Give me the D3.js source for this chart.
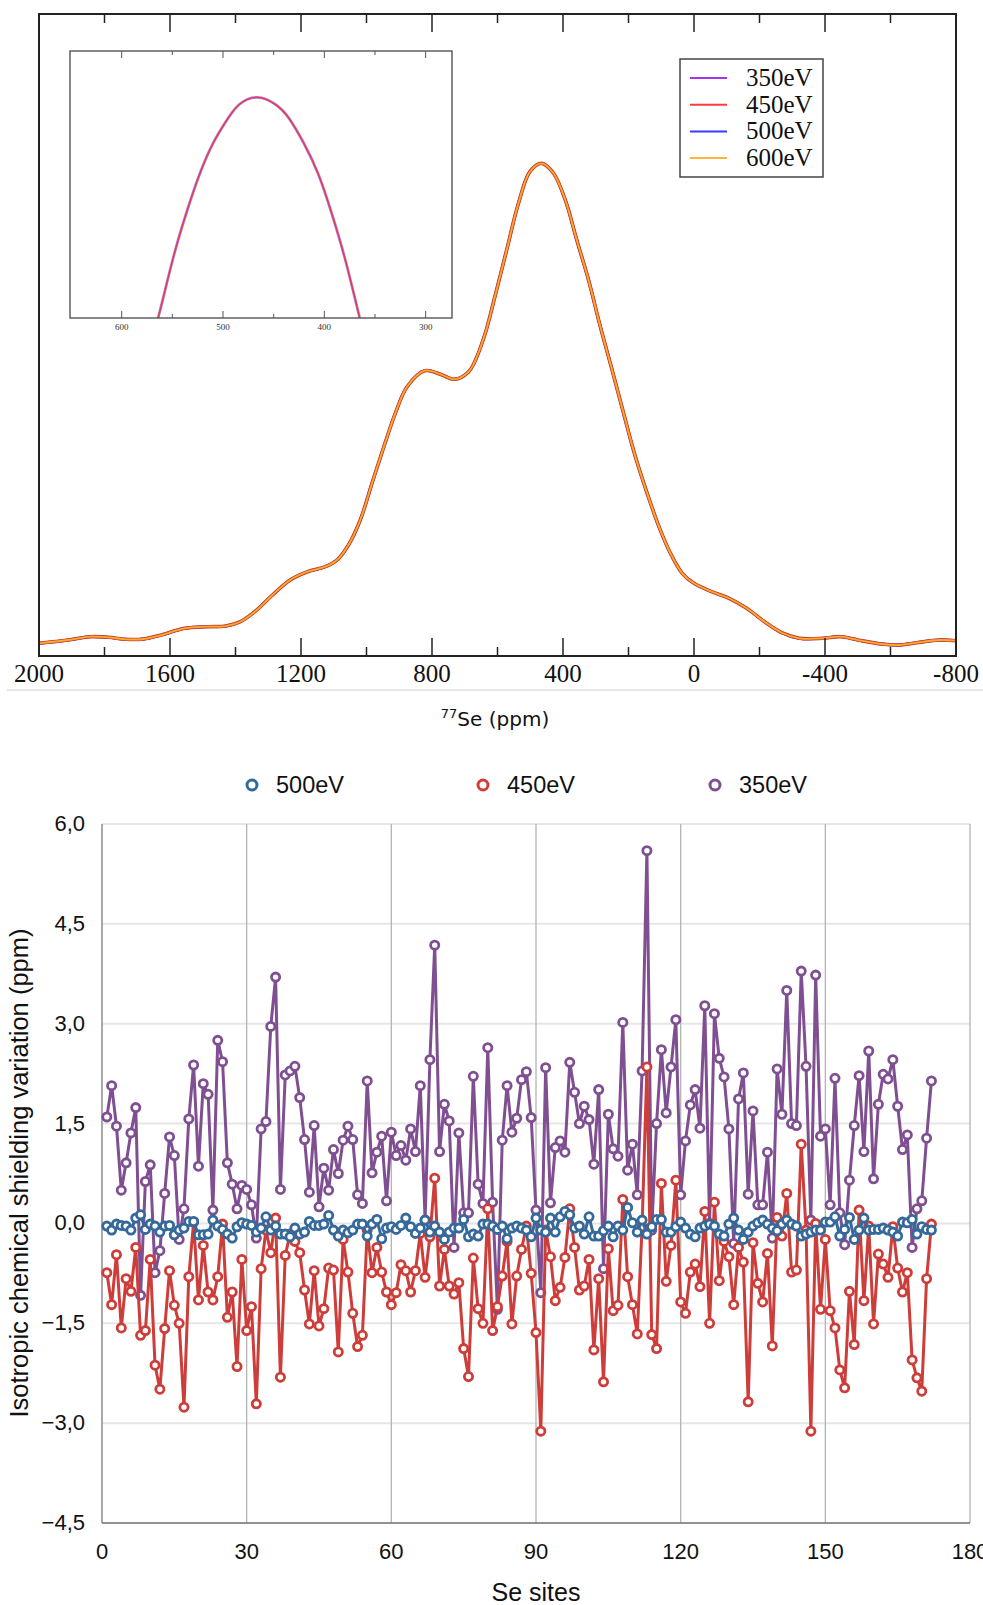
<!DOCTYPE html>
<html>
<head>
<meta charset="utf-8">
<script src="https://cdn.jsdelivr.net/npm/d3@7"></script>
<style>
  body { margin: 0; background: #fff; }
  svg { display: block; }
</style>
</head>
<body>
<div id="chart"></div>
<script>
// ---- top panel: 77Se spectrum ----
var spectrumPpm = [2000, 1913, 1841, 1788, 1734, 1680, 1627, 1555, 1484, 1430, 1385, 1341, 1287, 1233, 1180, 1126,
  1090, 1055, 1019, 983, 947, 912, 876, 822, 769, 733, 688, 644, 608, 572, 536, 501, 465, 429, 393, 358, 322, 286,
  250, 215, 179, 143, 107, 72, 36, 0, -54, -107, -161, -215, -268, -322, -393, -447, -501, -572, -626, -679, -751, -800];
var spectrumIntensity = [1.98, 2.49, 3.01, 2.91, 2.60, 2.65, 3.27, 4.31, 4.56, 4.67, 5.34, 6.90, 9.50, 11.84, 13.13, 13.91,
  14.95, 17.29, 21.18, 26.95, 32.60, 37.80, 41.95, 44.44, 43.77, 43.10, 44.28, 49.22, 55.97, 63.24, 70.51, 75.44, 76.74, 75.19, 71.03, 64.80, 58.57, 51.29,
  44.55, 37.80, 31.04, 25.34, 20.14, 16.00, 12.88, 11.32, 10.02, 8.99, 7.43, 5.34, 3.63, 2.76, 2.76, 3.01, 2.49, 1.87, 1.71, 2.07, 2.49, 2.38];

// zoom on the main peak
var insetPpm = [572, 562, 549, 536, 523, 510, 497, 484, 466, 448, 435, 420, 406, 393, 380, 367, 356];
var insetIntensity = [61.2, 63.5, 66.8, 69.6, 72.0, 73.9, 75.3, 76.35, 76.8, 76.35, 75.5, 73.9, 72.0, 69.6, 66.8, 63.5, 60.6];

var spectrumSeries = ['350eV', '450eV', '500eV', '600eV'];
var spectrumColors = ['#a633ee', '#ff3b3b', '#3b3bff', '#ffb43c'];
var spectrumTicks = [2000, 1600, 1200, 800, 400, 0, -400, -800];
var insetTicks = [600, 500, 400, 300];

// ---- bottom panel: shielding variation per Se site ----
var shieldSeries = ['500eV', '450eV', '350eV'];
var shieldColors = ['#35699a', '#cd3d39', '#7f4f92'];
var shieldYTicks = [-4.5, -3.0, -1.5, 0.0, 1.5, 3.0, 4.5, 6.0];
var shieldXTicks = [0, 30, 60, 90, 120, 150, 180];

var shield500 = [-0.04, -0.10, -0.01, -0.03, -0.04, -0.10, 0.08, 0.13, -0.09, -0.01, -0.04, -0.13, -0.04, -0.03, -0.17, -0.10, -0.07, 0.03, 0.03, -0.17,
  -0.17, -0.16, 0.05, -0.04, -0.09, -0.16, -0.22, -0.05, 0.01, -0.01, -0.03, -0.13, -0.07, 0.10, -0.10, -0.04, -0.16, -0.16, -0.20, -0.07,
  -0.16, -0.13, 0.03, -0.03, -0.03, -0.01, 0.12, -0.10, -0.19, -0.10, -0.14, -0.10, -0.01, -0.01, -0.19, -0.01, 0.06, -0.23, -0.07, -0.05,
  -0.09, -0.03, 0.08, -0.05, -0.15, -0.07, 0.05, -0.13, -0.04, -0.13, -0.24, -0.13, -0.07, -0.07, 0.06, -0.20, -0.16, -0.19, -0.01, -0.01,
  -0.04, -0.09, -0.04, -0.23, -0.07, -0.04, -0.07, -0.10, -0.20, 0.08, -0.10, -0.13, 0.08, -0.13, 0.10, 0.18, 0.13, -0.07, -0.04, -0.16,
  0.10, -0.19, -0.19, -0.11, -0.04, -0.20, -0.04, -0.10, 0.24, 0.01, -0.13, 0.05, -0.16, -0.05, 0.06, 0.06, -0.13, -0.13, -0.05, 0.02,
  -0.07, -0.16, -0.20, -0.07, -0.04, -0.01, -0.04, -0.16, -0.19, -0.01, 0.08, -0.10, -0.24, -0.13, -0.04, 0.01, 0.05, -0.01, -0.07, -0.11,
  -0.01, 0.05, -0.01, -0.04, -0.19, -0.16, -0.13, -0.10, -0.10, 0.02, 0.02, 0.10, -0.19, -0.09, 0.09, -0.24, -0.10, 0.08, -0.10, -0.09,
  -0.09, -0.07, -0.10, -0.13, -0.19, 0.02, 0.01, 0.06, -0.16, -0.05, -0.09, -0.10];

var shield450 = [-0.74, -1.22, -0.47, -1.57, -0.83, -1.02, -0.36, -1.68, -1.61, -0.54, -2.13, -2.49, -1.58, -0.71, -1.23, -1.50, -2.76, -0.80, 0.02, -1.15,
  -0.33, -1.03, -1.15, -0.80, -0.01, -1.41, -1.03, -2.15, -0.54, -1.61, -1.25, -2.71, -0.68, -0.10, -0.44, 0.08, -2.31, -0.48, -0.16, -0.27,
  -0.44, -1.00, -1.51, -0.71, -1.54, -1.28, -0.67, -0.70, -1.93, -0.24, -0.73, -1.35, -1.85, -1.68, -0.10, -0.74, -0.36, -0.73, -1.03, -1.22,
  -1.04, -0.62, -0.71, -1.03, -0.71, -0.15, -0.81, -0.20, 0.68, -0.94, -0.39, -0.94, -1.06, -0.89, -1.88, -2.30, -0.52, -1.28, -1.50, 0.22,
  -1.61, -1.25, -0.79, -0.27, -1.51, -0.79, -0.39, -0.04, -0.75, -1.64, -3.12, -0.10, -0.50, -1.16, -0.96, -0.51, 0.22, -0.36, -1.00, -0.94,
  -0.54, -1.90, -0.83, -2.38, -0.38, -1.31, -1.23, 0.36, -0.80, -1.22, -1.66, -0.05, 2.35, -1.67, -1.88, 0.60, -0.87, -0.33, 0.65, -1.18,
  -1.35, -0.73, -0.61, -0.95, 0.18, -1.50, 0.32, -0.86, -0.27, -0.50, -1.22, -0.36, -0.58, -2.68, -0.29, -0.90, -1.18, -0.45, -1.84, 0.09,
  -0.19, 0.45, -0.73, -0.70, 1.19, -0.10, -3.12, 0.00, -1.29, -0.24, -1.31, -1.57, -2.20, -2.47, -1.02, -1.82, 0.20, -1.16, -0.04, -1.51,
  -0.46, -0.61, -0.81, -0.05, -0.67, -1.03, -0.74, -2.05, -2.32, -2.52, -0.83, -0.01];

var shield350 = [1.60, 2.07, 1.46, 0.50, 0.91, 1.36, 1.74, -1.08, 0.63, 0.88, -0.74, -0.41, 0.45, 1.30, 1.02, -0.24, 0.22, 1.57, 2.38, 0.86,
  2.10, 1.94, 0.20, 2.75, 2.43, 0.91, 0.59, 0.22, 0.57, 0.51, 0.28, -0.22, 1.42, 1.53, 2.96, 3.70, 0.51, 2.23, 2.29, 2.36,
  1.89, 1.26, 0.47, 1.47, 0.25, 0.83, 0.50, 1.11, 0.75, 1.25, 1.46, 1.26, 0.43, 0.30, 2.14, 0.76, 1.07, 1.31, 0.34, 1.37,
  1.02, 1.17, 0.95, 1.42, 1.08, 2.07, 0.05, 2.46, 4.18, 1.08, 1.79, 1.54, -0.36, 1.36, 0.16, 0.16, 2.21, 0.59, 0.30, 2.64,
  0.32, -1.29, 1.25, 2.07, 1.37, 1.58, 2.16, 2.28, 1.59, 0.20, -1.04, 2.34, 0.31, 1.14, 1.24, 1.07, 2.42, 1.97, 1.50, 1.76,
  1.56, 0.89, 2.01, -0.68, 1.64, 1.12, 1.01, 3.02, 0.80, 1.19, 0.43, 2.29, 5.60, -0.10, 1.50, 2.61, 1.66, 2.35, 3.06, 0.43,
  1.24, 1.78, 2.01, 1.43, 3.27, 0.00, 3.15, 2.48, 2.20, 1.42, -0.30, 1.87, 2.26, 0.44, 1.69, 0.28, 0.28, 1.07, -0.22, 2.32,
  1.64, 3.50, 1.50, 1.47, 3.79, 2.36, 0.05, 3.73, 1.31, 1.42, 0.28, 2.18, 0.16, -0.32, 0.65, 1.47, 2.22, 1.08, 2.59, 0.67,
  1.79, 2.24, 2.17, 2.46, 1.76, 1.11, 1.33, -0.36, 0.22, 0.34, 1.28, 2.14];

var sites = d3.range(1, shield500.length + 1);

var width = 983;
var height = 1605;

var svg = d3.select('#chart')
  .append('svg')
  .attr('width', width)
  .attr('height', height);

drawSpectrum();
drawShielding();

function drawSpectrum () {
  var left = 39, right = 956, top = 14, bottom = 656;
  var serif = 'Liberation Serif, Times New Roman, serif';

  var x = d3.scaleLinear().domain([2000, -800]).range([left, right]);
  var y = d3.scaleLinear().domain([0, 100]).range([bottom, top]);

  var g = svg.append('g');

  var points = spectrumPpm.map(function (p, i) {
    return { ppm: p, v: spectrumIntensity[i] };
  });

  var line = d3.line()
    .x(function (d) { return x(d.ppm); })
    .y(function (d) { return y(d.v); })
    .curve(d3.curveCatmullRom.alpha(0.5));

  // the four spectra overlap; drawn purple, blue, red, then 600eV on top
  var order = [0, 2, 1, 3];
  var widths = [2.8, 3.6, 2.8, 1.8];
  var strokes = ['#a633ee', '#c8472a', '#3b3bff', '#ffa830'];
  order.forEach(function (i) {
    g.append('path')
      .datum(points)
      .attr('fill', 'none')
      .attr('stroke', strokes[i])
      .attr('stroke-width', widths[i])
      .attr('d', line);
  });

  // frame
  g.append('rect')
    .attr('x', left).attr('y', top)
    .attr('width', right - left).attr('height', bottom - top)
    .attr('fill', 'none')
    .attr('stroke', '#222')
    .attr('stroke-width', 2);

  var minor = d3.range(-800, 2001, 200);
  g.selectAll('.tickb')
    .data(minor)
    .enter()
    .append('line')
    .attr('x1', function (d) { return x(d); })
    .attr('x2', function (d) { return x(d); })
    .attr('y1', bottom)
    .attr('y2', function (d) { return bottom - (d % 400 === 0 ? 18 : 9); })
    .attr('stroke', '#222')
    .attr('stroke-width', 1.5);

  g.selectAll('.tickt')
    .data(minor)
    .enter()
    .append('line')
    .attr('x1', function (d) { return x(d); })
    .attr('x2', function (d) { return x(d); })
    .attr('y1', top)
    .attr('y2', function (d) { return top + (d % 400 === 0 ? 18 : 9); })
    .attr('stroke', '#222')
    .attr('stroke-width', 1.5);

  g.selectAll('.ticklabel')
    .data(spectrumTicks)
    .enter()
    .append('text')
    .attr('x', function (d) { return x(d); })
    .attr('y', 682)
    .attr('text-anchor', 'middle')
    .attr('font-family', serif)
    .attr('font-size', 25)
    .attr('fill', '#111')
    .text(function (d) { return d; });

  svg.append('line')
    .attr('x1', 7).attr('x2', 983)
    .attr('y1', 690).attr('y2', 690)
    .attr('stroke', '#cfcfcf')
    .attr('stroke-width', 1.2);

  var title = svg.append('text')
    .attr('x', 495)
    .attr('y', 726)
    .attr('text-anchor', 'middle')
    .attr('font-family', 'DejaVu Sans, sans-serif')
    .attr('font-size', 20)
    .attr('fill', '#111');
  title.append('tspan')
    .attr('font-size', 13)
    .attr('dy', -8)
    .text('77');
  title.append('tspan')
    .attr('dy', 8)
    .text('Se (ppm)');

  // legend
  var lg = svg.append('g');
  lg.append('rect')
    .attr('x', 680).attr('y', 59)
    .attr('width', 143).attr('height', 118)
    .attr('fill', '#fff')
    .attr('stroke', '#444')
    .attr('stroke-width', 1.5);
  spectrumSeries.forEach(function (s, i) {
    var ly = 78 + i * 26.7;
    lg.append('line')
      .attr('x1', 690).attr('x2', 727)
      .attr('y1', ly).attr('y2', ly)
      .attr('stroke', spectrumColors[i])
      .attr('stroke-width', 2);
    lg.append('text')
      .attr('x', 746)
      .attr('y', ly + 8)
      .attr('font-family', serif)
      .attr('font-size', 25)
      .attr('fill', '#111')
      .text(s);
  });

  drawInset();
}

function drawInset () {
  var left = 70, right = 452, top = 51, bottom = 318;
  var serif = 'Liberation Serif, Times New Roman, serif';
  var x = d3.scaleLinear().domain([651, 274]).range([left, right]);
  var y = d3.scaleLinear().domain([63, 79.7]).range([bottom, top]);

  var g = svg.append('g');

  g.append('rect')
    .attr('x', left).attr('y', top)
    .attr('width', right - left).attr('height', bottom - top)
    .attr('fill', '#fff');

  g.append('clipPath')
    .attr('id', 'insetClip')
    .append('rect')
    .attr('x', left).attr('y', top)
    .attr('width', right - left).attr('height', bottom - top);

  var points = insetPpm.map(function (p, i) {
    return { ppm: p, v: insetIntensity[i] };
  });

  var line = d3.line()
    .x(function (d) { return x(d.ppm); })
    .y(function (d) { return y(d.v); })
    .curve(d3.curveNatural);

  g.append('path')
    .datum(points)
    .attr('clip-path', 'url(#insetClip)')
    .attr('fill', 'none')
    .attr('stroke', '#b77ef0')
    .attr('stroke-width', 2.8)
    .attr('d', line);

  g.append('path')
    .datum(points)
    .attr('clip-path', 'url(#insetClip)')
    .attr('fill', 'none')
    .attr('stroke', '#e0403e')
    .attr('stroke-width', 1.4)
    .attr('d', line);

  g.append('rect')
    .attr('x', left).attr('y', top)
    .attr('width', right - left).attr('height', bottom - top)
    .attr('fill', 'none')
    .attr('stroke', '#555')
    .attr('stroke-width', 1.4);

  var ticks = d3.range(300, 601, 50);
  ['b', 't'].forEach(function (side) {
    g.selectAll('.it' + side)
      .data(ticks)
      .enter()
      .append('line')
      .attr('x1', function (d) { return x(d); })
      .attr('x2', function (d) { return x(d); })
      .attr('y1', side === 'b' ? bottom : top)
      .attr('y2', function (d) {
        var len = d % 100 === 0 ? 7 : 4;
        return side === 'b' ? bottom - len : top + len;
      })
      .attr('stroke', '#555')
      .attr('stroke-width', 1);
  });

  g.selectAll('.itl')
    .data(insetTicks)
    .enter()
    .append('text')
    .attr('x', function (d) { return x(d); })
    .attr('y', 330)
    .attr('text-anchor', 'middle')
    .attr('font-family', serif)
    .attr('font-size', 9)
    .attr('fill', '#333')
    .text(function (d) { return d; });
}

function drawShielding () {
  var left = 102, right = 970, top = 824, bottom = 1523;
  var sans = 'Liberation Sans, Arial, Helvetica, sans-serif';

  var x = d3.scaleLinear().domain([0, 180]).range([left, right]);
  var y = d3.scaleLinear().domain([-4.5, 6]).range([bottom, top]);
  var fmt = function (d) { return d3.format('.1f')(d).replace('.', ','); };

  var g = svg.append('g');

  // horizontal grid
  g.selectAll('.hgrid')
    .data(shieldYTicks.filter(function (d) { return d > -4.5; }))
    .enter()
    .append('line')
    .attr('x1', left).attr('x2', right)
    .attr('y1', function (d) { return y(d); })
    .attr('y2', function (d) { return y(d); })
    .attr('stroke', '#e6e6e6')
    .attr('stroke-width', 2);

  // vertical grid
  g.selectAll('.vgrid')
    .data(shieldXTicks)
    .enter()
    .append('line')
    .attr('x1', function (d) { return x(d); })
    .attr('x2', function (d) { return x(d); })
    .attr('y1', top).attr('y2', bottom)
    .attr('stroke', function (d) { return d === 0 ? '#a8a8a8' : '#b4b4b4'; })
    .attr('stroke-width', function (d) { return d === 0 ? 2 : 1.3; });

  g.append('line')
    .attr('x1', left).attr('x2', right)
    .attr('y1', bottom).attr('y2', bottom)
    .attr('stroke', '#6f6f6f')
    .attr('stroke-width', 1.5);

  g.selectAll('.ylab')
    .data(shieldYTicks)
    .enter()
    .append('text')
    .attr('x', 85)
    .attr('y', function (d) { return y(d) + 7; })
    .attr('text-anchor', 'end')
    .attr('font-family', sans)
    .attr('font-size', 22)
    .attr('fill', '#111')
    .text(fmt);

  g.selectAll('.xlab')
    .data(shieldXTicks)
    .enter()
    .append('text')
    .attr('x', function (d) { return x(d); })
    .attr('y', 1559)
    .attr('text-anchor', 'middle')
    .attr('font-family', sans)
    .attr('font-size', 22)
    .attr('fill', '#111')
    .text(function (d) { return d; });

  svg.append('text')
    .attr('x', 536)
    .attr('y', 1601)
    .attr('text-anchor', 'middle')
    .attr('font-family', sans)
    .attr('font-size', 25)
    .attr('fill', '#111')
    .text('Se sites');

  svg.append('text')
    .attr('transform', 'translate(28,1173) rotate(-90)')
    .attr('text-anchor', 'middle')
    .attr('font-family', sans)
    .attr('font-size', 25.5)
    .attr('fill', '#111')
    .text('Isotropic chemical shielding variation (ppm)');

  var values = [shield500, shield450, shield350];

  var line = d3.line()
    .x(function (d) { return x(d.site); })
    .y(function (d) { return y(d.v); });

  // 350eV at the back, 500eV in front
  [2, 1, 0].forEach(function (k) {
    var pts = sites.map(function (s, i) { return { site: s, v: values[k][i] }; });
    var sg = g.append('g');
    sg.append('path')
      .datum(pts)
      .attr('fill', 'none')
      .attr('stroke', shieldColors[k])
      .attr('stroke-width', 3)
      .attr('stroke-linejoin', 'round')
      .attr('d', line);
    sg.selectAll('circle')
      .data(pts)
      .enter()
      .append('circle')
      .attr('cx', function (d) { return x(d.site); })
      .attr('cy', function (d) { return y(d.v); })
      .attr('r', 4.1)
      .attr('fill', '#fff')
      .attr('stroke', shieldColors[k])
      .attr('stroke-width', 2.8);
  });

  // legend
  var legendX = [252, 483, 715];
  shieldSeries.forEach(function (s, i) {
    svg.append('circle')
      .attr('cx', legendX[i]).attr('cy', 785)
      .attr('r', 5)
      .attr('fill', '#fff')
      .attr('stroke', shieldColors[i])
      .attr('stroke-width', 3);
    svg.append('text')
      .attr('x', legendX[i] + 24)
      .attr('y', 793)
      .attr('font-family', sans)
      .attr('font-size', 23.5)
      .attr('fill', '#111')
      .text(s);
  });
}
</script>
</body>
</html>
